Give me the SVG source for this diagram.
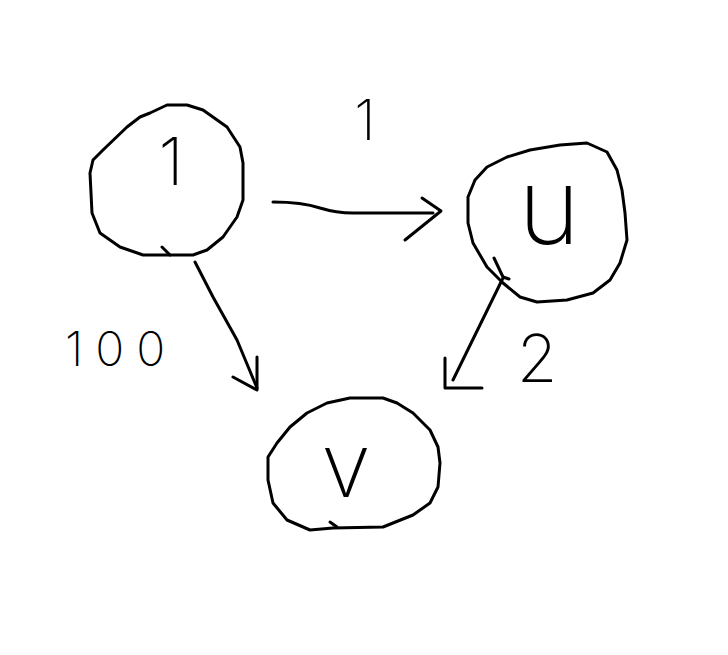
<svg xmlns="http://www.w3.org/2000/svg" width="728" height="655" viewBox="0 0 728 655">
<style>
.s{fill:none;stroke:#000;stroke-width:3;stroke-linecap:round;stroke-linejoin:round}
.t{font-family:Inter,"Liberation Sans",sans-serif;font-weight:200;fill:#000;text-anchor:middle}
</style>
<rect width="728" height="655" fill="#fff"/>
<g id="node-1">
<path class="s" d="M167,105 L187,105 L203,110 L227,127 L240,147 L243,163 L243,200 L237,217 L223,237 L207,250 L193,255 L143,255 L120,247 L100,233 L92,213 L90,173 L93,160 L103,150 L127,127 L140,117 L150,113 Z"/>
<path class="s" d="M162,247 L170,255"/>
<text class="t" x="171" y="185" font-size="66">1</text>
</g>
<g id="node-u">
<path class="s" d="M560,145 L587,143 L607,152 L617,170 L622,190 L625,213 L627,240 L620,263 L610,280 L593,293 L567,300 L537,302 L520,297 L503,283 L487,267 L473,243 L468,223 L468,197 L475,180 L487,167 L507,157 L530,150 Z"/>
<text class="t" x="549" y="244" font-size="106">u</text>
</g>
<g id="node-v">
<path class="s" d="M350,398 L383,398 L397,403 L413,413 L430,430 L438,447 L440,463 L438,487 L430,503 L413,515 L383,527 L333,528 L310,530 L287,520 L273,503 L268,480 L268,457 L277,443 L290,427 L307,413 L327,403 Z"/>
<path class="s" d="M330,522 L337,527"/>
<text class="t" x="346" y="497" font-size="90">v</text>
</g>
<g id="connectors">
<path class="s" d="M273,202 C290,202 305,203 320,208 C333,212 345,213 353,213 L433,213"/>
<path class="s" d="M422,198 L441,211 L405,240"/>
<path class="s" d="M195,262 L213,297 L237,340 L257,388"/>
<path class="s" d="M257,357 L257,390 L233,377"/>
<path class="s" d="M494,258 L503,277 L509,279 M503,278 L453,380"/>
<path class="s" d="M445,358 L445,388 L482,388"/>
</g>
<g id="labels">
<text class="t" x="365" y="140" font-size="56">1</text>
<text class="t" x="121" y="366" font-size="48" letter-spacing="12">100</text>
<text class="t" x="537" y="382" font-size="66">2</text>
</g>
</svg>
